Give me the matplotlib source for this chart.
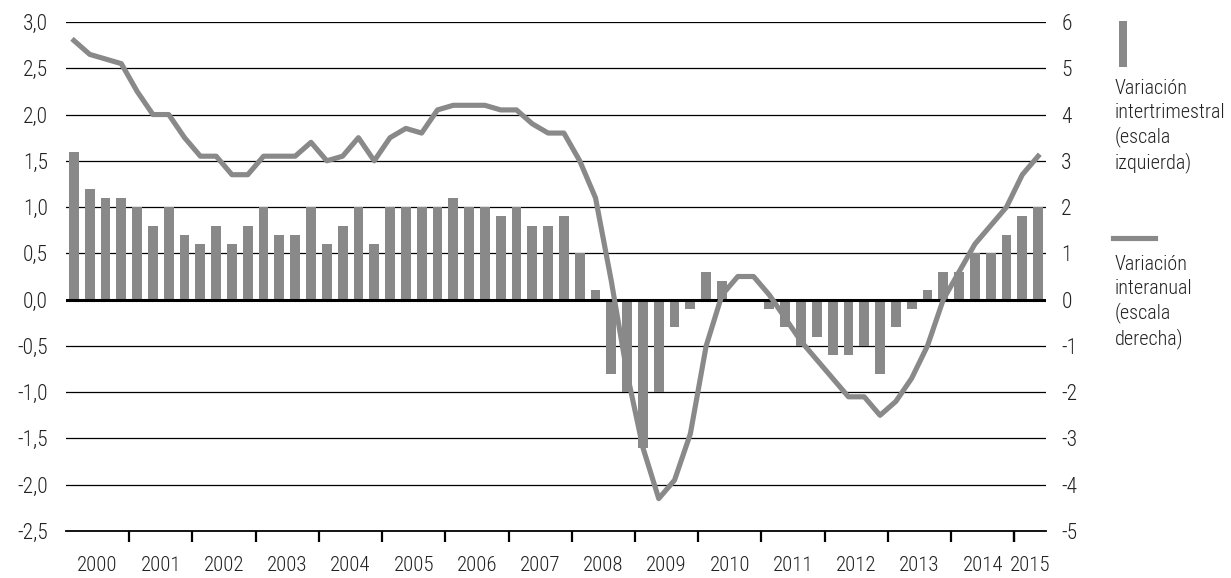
import numpy as np
import matplotlib
matplotlib.use("Agg")
import matplotlib.pyplot as plt
from matplotlib.patches import Rectangle
from matplotlib.lines import Line2D

plt.rcParams["font.family"] = ["Roboto Condensed", "Liberation Sans Narrow",
                               "Liberation Sans", "DejaVu Sans"]
plt.rcParams["font.weight"] = "light"

# data, quarterly 2000T1 - 2015T2
years = [str(y) for y in range(2000, 2016)]
quarters_per_year = [4] * 15 + [2]

# variacion intertrimestral (escala izquierda)
inter_trim = [
    1.6, 1.2, 1.1, 1.1,   # 2000
    1.0, 0.8, 1.0, 0.7,   # 2001
    0.6, 0.8, 0.6, 0.8,   # 2002
    1.0, 0.7, 0.7, 1.0,   # 2003
    0.6, 0.8, 1.0, 0.6,   # 2004
    1.0, 1.0, 1.0, 1.0,   # 2005
    1.1, 1.0, 1.0, 0.9,   # 2006
    1.0, 0.8, 0.8, 0.9,   # 2007
    0.5, 0.1, -0.8, -1.0,  # 2008
    -1.6, -1.0, -0.3, -0.1,  # 2009
    0.3, 0.2, 0.0, 0.0,   # 2010
    -0.1, -0.3, -0.5, -0.4,  # 2011
    -0.6, -0.6, -0.5, -0.8,  # 2012
    -0.3, -0.1, 0.1, 0.3,  # 2013
    0.3, 0.5, 0.5, 0.7,   # 2014
    0.9, 1.0,             # 2015
]

# variacion interanual (escala derecha)
inter_anual = [
    5.6, 5.3, 5.2, 5.1,
    4.5, 4.0, 4.0, 3.5,
    3.1, 3.1, 2.7, 2.7,
    3.1, 3.1, 3.1, 3.4,
    3.0, 3.1, 3.5, 3.0,
    3.5, 3.7, 3.6, 4.1,
    4.2, 4.2, 4.2, 4.1,
    4.1, 3.8, 3.6, 3.6,
    3.0, 2.2, 0.4, -1.6,
    -3.2, -4.3, -3.9, -2.9,
    -1.0, 0.1, 0.5, 0.5,
    0.1, -0.4, -0.9, -1.3,
    -1.7, -2.1, -2.1, -2.5,
    -2.2, -1.7, -1.0, 0.0,
    0.6, 1.2, 1.6, 2.0,
    2.7, 3.1,
]

left_ticks = [-2.5, -2.0, -1.5, -1.0, -0.5, 0.0, 0.5, 1.0, 1.5, 2.0, 2.5, 3.0]
right_ticks = [-5, -4, -3, -2, -1, 0, 1, 2, 3, 4, 5, 6]

GRAY = "#898989"
TEXT = "#222222"
W, H = 1231, 578


def fig_xy(px, py):
    return px / W, 1 - py / H


fig = plt.figure(figsize=(W / 100, H / 100), dpi=100)
ax = fig.add_axes([66 / W, 1 - 531 / H, (1046 - 66) / W, (531 - 22) / H])

x = np.arange(len(inter_trim))
ax.bar(x, inter_trim, width=0.62, color=GRAY, zorder=2)

ax.set_xlim(-0.5, len(x) - 0.5)
ax.set_ylim(left_ticks[0], left_ticks[-1])
ax.set_yticks(left_ticks)
ax.set_yticklabels([f"{v:.1f}".replace(".", ",") for v in left_ticks])
for v in left_ticks[1:]:
    ax.axhline(v, color="black", lw=0.9, zorder=1)
ax.axhline(0, color="black", lw=2.2, zorder=3)

for s in ["left", "right", "top"]:
    ax.spines[s].set_visible(False)
ax.spines["bottom"].set_linewidth(1.3)

# year boundaries as ticks, labels in the middle of each year
bounds = np.cumsum(quarters_per_year)[:-1] - 0.5
bounds = list(bounds) + [len(x) - 2.5]
starts = np.concatenate([[0], np.cumsum(quarters_per_year)[:-1]])
centers = starts + (np.array(quarters_per_year) - 1) / 2
ax.set_xticks(bounds)
ax.set_xticklabels([])
ax.set_xticks(centers, minor=True)
ax.set_xticklabels(years, minor=True)
ax.tick_params(axis="x", which="major", length=8, width=1.6, color="black")
ax.tick_params(axis="x", which="minor", length=0, pad=18, labelsize=15, labelcolor=TEXT)
ax.tick_params(axis="y", length=0, pad=13, labelsize=15.5, labelcolor=TEXT)

ax2 = ax.twinx()
ax2.plot(x, inter_anual, color=GRAY, lw=3.7, solid_joinstyle="round", zorder=4)
ax2.set_ylim(right_ticks[0], right_ticks[-1])
ax2.set_yticks(right_ticks)
ax2.set_yticklabels([str(v) for v in right_ticks])
ax2.tick_params(axis="y", length=0, pad=11, labelsize=15.5, labelcolor=TEXT)
for s in ax2.spines.values():
    s.set_visible(False)
ax.set_xlim(-0.5, len(x) - 0.5)

# legend, drawn by hand on the right
x0, y0 = fig_xy(1119, 67)
x1, y1 = fig_xy(1127, 21)
fig.add_artist(Rectangle((x0, y0), x1 - x0, y1 - y0, transform=fig.transFigure,
                         color=GRAY, lw=0))
fig.text(*fig_xy(1115, 79), "Variación\nintertrimestral\n(escala\nizquierda)",
         ha="left", va="top", fontsize=14.5, color=TEXT, linespacing=1.3)
lx0, ly = fig_xy(1113, 238)
lx1, _ = fig_xy(1155, 238)
fig.add_artist(Line2D([lx0, lx1], [ly, ly], transform=fig.transFigure,
                      color=GRAY, lw=3.7))
fig.text(*fig_xy(1115, 255), "Variación\ninteranual\n(escala\nderecha)",
         ha="left", va="top", fontsize=14.5, color=TEXT, linespacing=1.3)

fig.savefig("out.png", dpi=100)
